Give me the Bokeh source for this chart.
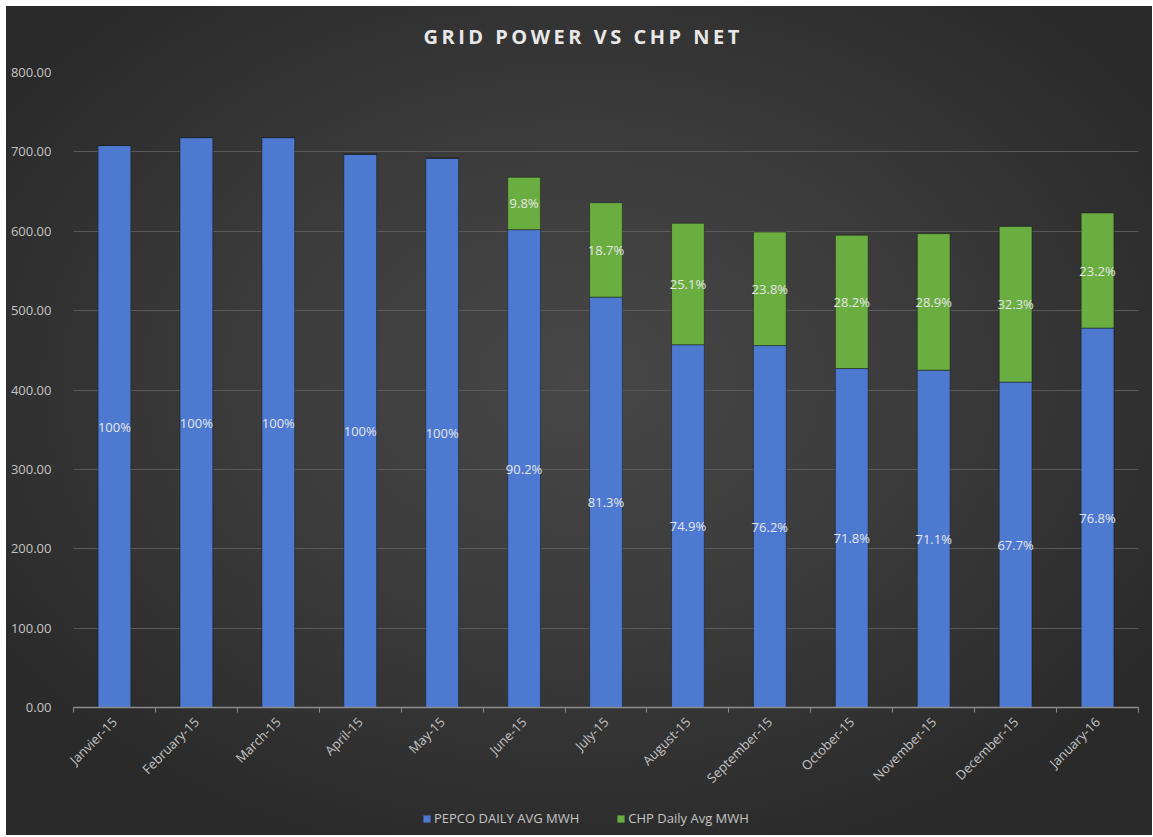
import math
from bokeh.plotting import figure
from bokeh.layouts import column
from bokeh.models import (ColumnDataSource, FixedTicker, Legend, LegendItem, Range1d,
                          Label)
from bokeh.core.properties import value
from bokeh.embed import file_html
from bokeh.resources import INLINE

months = ["Janvier-15", "February-15", "March-15", "April-15", "May-15", "June-15",
          "July-15", "August-15", "September-15", "October-15", "November-15",
          "December-15", "January-16"]
pepco = [708, 718, 718, 697, 692, 602, 517, 457, 456, 427, 425, 410, 478]
chp = [0, 0, 0, 0, 0, 66, 119, 153, 143, 168, 172, 196, 145]
pepco_labels = ["100%", "100%", "100%", "100%", "100%", "90.2%", "81.3%", "74.9%",
                "76.2%", "71.8%", "71.1%", "67.7%", "76.8%"]
chp_labels = ["", "", "", "", "", "9.8%", "18.7%", "25.1%", "23.8%", "28.2%",
              "28.9%", "32.3%", "23.2%"]
y_ticks = [0, 100, 200, 300, 400, 500, 600, 700, 800]
series_names = ["PEPCO DAILY AVG MWH", "CHP Daily Avg MWH"]
title_text = "GRID POWER VS CHP NET"

FONT = "Open Sans"
BLUE = "#4d79d0"
GREEN = "#6aad41"
W = 1146
TITLE_H, MAIN_H, LEG_H = 56, 739, 34
# strips share the main plot's frame (column aligns frames): page x 73..1138
FRAME_X0, FRAME_X1 = 73, 1138


def strip(h):
    f = figure(width=W, height=h, x_range=Range1d(FRAME_X0, FRAME_X1),
               y_range=Range1d(h, 0),
               output_backend="svg", toolbar_location=None, min_border=0,
               x_axis_location=None, y_axis_location=None)
    f.grid.visible = False
    f.outline_line_color = None
    f.background_fill_alpha = 0
    f.border_fill_alpha = 0
    return f


n = len(months)
xs = [i + 0.5 for i in range(n)]
tops = [a + b for a, b in zip(pepco, chp)]
src = ColumnDataSource(dict(
    x=xs, pepco=pepco, top=tops,
    pmid=[a / 2 for a in pepco],
    cmid=[a + b / 2 for a, b in zip(pepco, chp)],
    plab=pepco_labels, clab=chp_labels,
))

# ---- title strip
tf = strip(TITLE_H)
tf.styles = {"letter-spacing": "3.5px"}
tf.add_layout(Label(x=423, y=30, text=title_text, text_align="left",
                    text_baseline="middle", text_font=FONT, text_font_style="bold",
                    text_font_size="20px", text_color="#e8e8e8"))

# ---- main chart
p = figure(width=W, height=MAIN_H, x_range=Range1d(0, n), y_range=Range1d(0, 800),
           output_backend="svg", toolbar_location=None,
           min_border_left=67, min_border_right=14, min_border_top=10,
           min_border_bottom=94)
p.background_fill_alpha = 0
p.border_fill_alpha = 0
p.outline_line_color = None

r1 = p.vbar(x="x", width=0.4, bottom=0, top="pepco", source=src,
            fill_color=BLUE, line_color="#1a1a1a", line_alpha=0.5)
r2 = p.vbar(x="x", width=0.4, bottom="pepco", top="top", source=src,
            fill_color=GREEN, line_color="#1a1a1a", line_alpha=0.5)

p.text(x="x", y="pmid", text="plab", source=src, text_align="center",
       text_baseline="middle", text_font=value(FONT), text_font_size="13px",
       text_color="#e6e6e6")
p.text(x="x", y="cmid", text="clab", source=src, text_align="center",
       text_baseline="middle", text_font=value(FONT), text_font_size="13px",
       text_color="#e6e6e6")

xa = p.xaxis[0]
xa.ticker = FixedTicker(ticks=xs, minor_ticks=list(range(n + 1)))
xa.major_label_overrides = {x: m for x, m in zip(xs, months)}
xa.major_label_orientation = math.pi / 4
xa.major_tick_line_color = None
xa.minor_tick_line_color = "#8c8c8c"
xa.minor_tick_out = 5
xa.minor_tick_in = 0
xa.axis_line_color = "#8c8c8c"
xa.axis_line_width = 1.5
xa.major_label_text_font = FONT
xa.major_label_text_font_size = "13px"
xa.major_label_text_color = "#c4c4c4"
xa.major_label_standoff = 6

ya = p.yaxis[0]
ya.ticker = FixedTicker(ticks=y_ticks)
ya.major_label_overrides = {t: f"{t:.2f}" for t in y_ticks}
ya.axis_line_color = None
ya.major_tick_line_color = None
ya.minor_tick_line_color = None
ya.major_label_standoff = 16
ya.major_label_text_font = FONT
ya.major_label_text_font_size = "13px"
ya.major_label_text_color = "#c4c4c4"

p.xgrid.grid_line_color = None
p.ygrid.ticker = FixedTicker(ticks=y_ticks[1:])
p.ygrid.grid_line_color = "#5a5a5a"
p.ygrid.grid_line_width = 1

# ---- legend strip (swatch renderers sit outside the strip's visible range)
lf = strip(LEG_H)
swatch = ColumnDataSource(dict(x=[-100], top=[-100]))
l1 = lf.vbar(x="x", top="top", width=1, source=swatch, fill_color=BLUE, line_color=None)
l2 = lf.vbar(x="x", top="top", width=1, source=swatch, fill_color=GREEN, line_color=None)
legend = Legend(items=[LegendItem(label=series_names[0], renderers=[l1]),
                       LegendItem(label=series_names[1], renderers=[l2])],
                orientation="horizontal", location=(349, 8))
legend.background_fill_alpha = 0
legend.border_line_color = None
legend.label_text_font = FONT
legend.label_text_font_size = "13px"
legend.label_text_color = "#c4c4c4"
legend.glyph_width = 9
legend.glyph_height = 9
legend.label_standoff = 3
legend.spacing = 37
legend.padding = 0
legend.margin = 0
lf.add_layout(legend)

layout = column(tf, p, lf, spacing=0)
layout.margin = (6, 1, 2, 6)
layout.styles = {"background": "radial-gradient(ellipse 60% 60% at 50% 45%, #474747 0%, #3b3b3b 50%, #2a2a2a 100%)"}

open("out.html", "w").write(file_html(layout, INLINE))
